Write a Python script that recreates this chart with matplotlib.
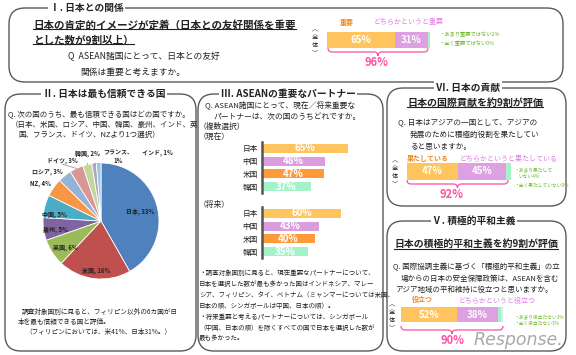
import numpy as np
import matplotlib
matplotlib.use("Agg")
import matplotlib.pyplot as plt
from matplotlib.patches import FancyBboxPatch, PathPatch
from matplotlib.path import Path

plt.rcParams['font.family'] = ['Noto Sans CJK JP', 'DejaVu Sans']

# Data
trust_countries = ["日本", "米国", "英国", "豪州", "中国", "NZ", "ロシア", "ドイツ", "韓国", "フランス", "インド"]
trust_values = [33, 16, 6, 5, 5, 4, 3, 3, 2, 1, 1]

partner_countries = ["日本", "中国", "米国", "韓国"]
partner_now = [65, 48, 47, 37]
partner_future = [60, 43, 40, 35]

friendship_values = [65, 31, 2, 0]     # 重要 / どちらかというと重要 / あまり / 全く
contribution_values = [47, 45, 4, 0]   # 果たしている / どちらかというと / あまり / 全く
peace_values = [52, 38, 3, 1]          # 役立つ / どちらかというと / あまり / 全く

W, H = 576, 355
fig = plt.figure(figsize=(W / 100, H / 100), dpi=100)
bg = fig.add_axes([0, 0, 1, 1])
bg.set_xlim(0, W)
bg.set_ylim(H, 0)
bg.axis('off')

ORANGE = '#FFC45E'
VIOLET = '#DDA0E0'
GREEN = '#A6F2C8'
PALE = '#CDEFFA'
ORANGE_TXT = '#F08A1C'
VIOLET_TXT = '#E07EE0'
GREEN_TXT = '#6DB82A'
PINK = '#FF4FA3'
TXT = '#222222'


def px_axes(x0, y0, w, h):
    # axes placed in pixel coordinates (y from top)
    return fig.add_axes([x0 / W, 1 - (y0 + h) / H, w / W, h / H])


def panel(x0, y0, x1, y1, title, tx, ha='center'):
    bg.add_patch(FancyBboxPatch((x0, y0), x1 - x0, y1 - y0,
                                boxstyle="round,pad=0,rounding_size=16",
                                fc='white', ec='#5a5a5a', lw=1.0))
    bg.text(tx, y0, title, ha=ha, va='center', fontsize=7, fontweight='bold',
            color=TXT, bbox=dict(fc='white', ec='none', pad=1.2))


def brace(x0, x1, y):
    xm = (x0 + x1) / 2
    verts = [(x0, y - 4), (x0, y), (x0 + 4, y), (xm - 4, y), (xm, y), (xm, y + 4),
             (xm, y), (xm + 4, y), (x1 - 4, y), (x1, y), (x1, y - 4)]
    codes = [Path.MOVETO, Path.CURVE3, Path.CURVE3, Path.LINETO, Path.CURVE3, Path.CURVE3,
             Path.CURVE3, Path.CURVE3, Path.LINETO, Path.CURVE3, Path.CURVE3]
    bg.add_patch(PathPatch(Path(verts, codes), fc='none', ec=PINK, lw=0.9))


def stacked(x0, y0, w100, h, values):
    ax = px_axes(x0, y0, w100, h)
    colors = [ORANGE, VIOLET, GREEN, PALE]
    left = 0
    for i, v in enumerate(values):
        ax.barh(0, v, left=left, height=1, color=colors[i], lw=0)
        if i < 2:
            ax.text(left + v / 2, 0, f"{v}%", ha='center', va='center', color='white',
                    fontsize=7, fontweight='bold')
        left += v
    ax.set_xlim(0, 100)
    ax.set_ylim(-0.5, 0.5)
    ax.axis('off')
    return ax


def zentai(x, y):
    bg.text(x, y, "︿\n全\n体\n﹀", ha='center', va='center', fontsize=4.5,
            linespacing=0.95, color=TXT)


underlined = []

# ---------- panel I ----------
panel(9, 8, 563, 82, "Ⅰ. 日本との関係", 50, ha='left')
underlined.append(bg.text(33, 25, "日本の肯定的イメージが定着（日本との友好関係を重要", fontsize=7.6,
                          fontweight='bold', va='center', color=TXT))
underlined.append(bg.text(33, 40, "とした数が9割以上）", fontsize=7.6, fontweight='bold',
                          va='center', color=TXT))
bg.text(68, 57, "Q  ASEAN諸国にとって、日本との友好", fontsize=6.3, va='center', color=TXT)
bg.text(80, 72, "関係は重要と考えますか。", fontsize=6.3, va='center', color=TXT)

stacked(327, 32, 105, 16, friendship_values)
bg.text(347, 22, "重要", fontsize=5, color=ORANGE_TXT, ha='center', va='center', fontweight='bold')
bg.text(409, 22, "どちらかというと重要", fontsize=5, color=VIOLET_TXT, ha='center', va='center')
bg.text(440, 35, f"・あまり重要ではない{friendship_values[2]}%", fontsize=3.8, color=GREEN_TXT, va='center')
bg.text(440, 44, f"・全く重要ではない{friendship_values[3]}%", fontsize=3.8, color=GREEN_TXT, va='center')
zentai(315, 41)
brace(328, 428, 52)
bg.text(376, 63, f"{friendship_values[0] + friendship_values[1]}%", fontsize=8, color=PINK,
        ha='center', va='center', fontweight='bold')

# ---------- panel II ----------
panel(5, 94, 196, 351, "Ⅱ. 日本は最も信頼できる国", 104)
bg.text(8, 115, "Q. 次の国のうち、最も信頼できる国はどの国ですか。", fontsize=5.4, va='center', color=TXT)
bg.text(11, 125, "（日本、米国、ロシア、中国、韓国、豪州、インド、英", fontsize=5.4, va='center', color=TXT)
bg.text(18, 135, "国、フランス、ドイツ、NZより1つ選択）", fontsize=5.4, va='center', color=TXT)

pie_colors = ['#4F81BD', '#C0504D', '#9BBB59', '#8064A2', '#4BACC6', '#F79646',
              '#95B3D7', '#D99694', '#C3D69B', '#B3A2C7', '#93CDDD']
pax = px_axes(43, 163, 116, 116)
wedges, _ = pax.pie(trust_values, colors=pie_colors, startangle=90, counterclock=False,
                    wedgeprops=dict(edgecolor='white', linewidth=0.6))
pax.set_xlim(-1, 1)
pax.set_ylim(-1, 1)
label_xy = [(0.67, 0.16), (-0.08, -0.86), (-0.62, -0.45), (-0.79, -0.14), (-0.80, 0.12),
            (-1.05, 0.64), (-0.93, 0.86), (-0.67, 1.05), (-0.24, 1.17), (0.30, 1.12), (0.98, 1.18)]
leader = [False, False, False, False, False, False, False, True, True, True, True]
for i, w in enumerate(wedges):
    name = trust_countries[i]
    lab = f"{name}, {trust_values[i]}%" if name != "フランス" else f"{name}、\n{trust_values[i]}%"
    lx, ly = label_xy[i]
    pax.text(lx, ly, lab, ha='center', va='center', fontsize=4.3, fontweight='bold',
             color=TXT, linespacing=1.3)
    if leader[i]:
        ang = np.deg2rad((w.theta1 + w.theta2) / 2)
        pax.plot([np.cos(ang), lx - 0.05 * np.sign(lx) if name == "インド" else lx],
                 [np.sin(ang), ly - 0.07], color='#888888', lw=0.5)

bg.text(22, 312, "調査対象国別に見ると、フィリピン以外の6カ国が日", fontsize=4.8, va='center', color=TXT)
bg.text(18, 322, "本を最も信頼できる国と評価。", fontsize=4.8, va='center', color=TXT)
bg.text(25, 332, "（フィリピンにおいては、米41%、日本31%。）", fontsize=4.8, va='center', color=TXT)

# ---------- panel III ----------
panel(198, 94, 383, 351, "Ⅲ. ASEANの重要なパートナー", 288)
bg.text(205, 105, "Q. ASEAN諸国にとって、現在／将来重要な", fontsize=5.6, va='center', color=TXT)
bg.text(213, 117, "パートナーは、次の国のうちどれですか。", fontsize=5.6, va='center', color=TXT)
bg.text(199, 127, "（複数選択）", fontsize=5.6, va='center', color=TXT)
bg.text(199, 138, "（現在）", fontsize=5.6, va='center', color=TXT)
bg.text(199, 205, "（将来）", fontsize=5.6, va='center', color=TXT)

partner_colors = ['#FFC45E', '#DA9DE0', '#FF9A3A', '#A6F2C8']
for vals, ytop in [(partner_now, 142), (partner_future, 207)]:
    ax = px_axes(262, ytop, 132, 51)
    ypos = np.arange(len(partner_countries))
    ax.barh(ypos, vals, height=0.72, color=partner_colors, lw=0)
    for y, v in zip(ypos, vals):
        ax.text(v / 2, y, f"{v}%", ha='center', va='center', color='white',
                fontsize=7, fontweight='bold')
    ax.set_xlim(0, 100)
    ax.set_ylim(len(partner_countries) - 0.5, -0.5)
    ax.set_yticks(ypos)
    ax.set_yticklabels(partner_countries, fontsize=5.5, color=TXT)
    ax.tick_params(axis='y', length=0, pad=3)
    ax.set_xticks([])
    ax.set_facecolor('none')
    for s in ['top', 'right', 'bottom']:
        ax.spines[s].set_visible(False)
    ax.spines['left'].set_color('#555555')
    ax.spines['left'].set_linewidth(1.8)

foot3 = ["・調査対象国別に見ると、現在重要なパートナーについて、",
         "日本を選択した数が最も多かった国はインドネシア、マレー",
         "シア、フィリピン、タイ、ベトナム（ミャンマーについては米国、",
         "日本の順、シンガポールは中国、日本の順）。",
         "・将来重要と考えるパートナーについては、シンガポール",
         "（中国、日本の順）を除くすべての国で日本を選択した数が",
         "最も多かった。"]
for i, line in enumerate(foot3):
    bg.text(199, 273 + i * 10.9, line, fontsize=4.7, va='center', color=TXT)

# ---------- panel VI ----------
panel(387, 88, 566, 206, "Ⅵ. 日本の貢献", 468)
underlined.append(bg.text(475, 103, "日本の国際貢献を約9割が評価", fontsize=7.2, fontweight='bold',
                          ha='center', va='center', color=TXT))
bg.text(398, 123, "Q. 日本はアジアの一国として、アジアの", fontsize=5.5, va='center', color=TXT)
bg.text(410, 135, "発展のために積極的役割を果たしてい", fontsize=5.5, va='center', color=TXT)
bg.text(410, 147, "ると思いますか。", fontsize=5.5, va='center', color=TXT)

stacked(407, 163, 108, 17, contribution_values)
bg.text(407, 159, "果たしている", fontsize=5, color=ORANGE_TXT, va='center', fontweight='bold')
bg.text(460, 159, "どちらかというと果たしている", fontsize=5, color=VIOLET_TXT, va='center')
bg.text(514, 170, "・あまり果たして", fontsize=3.4, color=GREEN_TXT, va='center')
bg.text(518, 177, f"いない{contribution_values[2]}%", fontsize=3.4, color=GREEN_TXT, va='center')
bg.text(514, 185, f"・全く果たしていない{contribution_values[3]}%", fontsize=3.4, color=GREEN_TXT, va='center')
zentai(395, 172)
brace(407, 508, 184)
bg.text(452, 195, f"{contribution_values[0] + contribution_values[1]}%", fontsize=8, color=PINK,
        ha='center', va='center', fontweight='bold')

# ---------- panel V ----------
panel(387, 221, 566, 351, "Ⅴ. 積極的平和主義", 474)
underlined.append(bg.text(476, 245, "日本の積極的平和主義を約9割が評価", fontsize=7.1, fontweight='bold',
                          ha='center', va='center', color=TXT))
bg.text(393, 267, "Q. 国際協調主義に基づく「積極的平和主義」の立", fontsize=5.4, va='center', color=TXT)
bg.text(401, 279, "場からの日本の安全保障政策は、ASEANを含む", fontsize=5.4, va='center', color=TXT)
bg.text(395, 290, "アジア地域の平和維持に役立つと思いますか。", fontsize=5.4, va='center', color=TXT)

stacked(401, 307, 108, 15, peace_values)
bg.text(412, 299, "役立つ", fontsize=5, color=ORANGE_TXT, va='center', fontweight='bold')
bg.text(459, 301, "どちらかというと役立つ", fontsize=5, color=VIOLET_TXT, va='center')
bg.text(514, 317, f"・あまり役立たない{peace_values[2]}%", fontsize=3.4, color=GREEN_TXT, va='center')
bg.text(514, 323, f"・全く役立たない{peace_values[3]}%", fontsize=3.4, color=GREEN_TXT, va='center')
zentai(392, 316)
brace(401, 503, 330)
bg.text(452, 341, f"{peace_values[0] + peace_values[1]}%", fontsize=8, color=PINK,
        ha='center', va='center', fontweight='bold')

# watermark of the source site
bg.text(518, 340, "Response.", fontsize=12.5, color='#8c8c8c', alpha=0.75, ha='center', va='center',
        family='DejaVu Sans', style='italic', zorder=20)

# underline the headings
fig.canvas.draw()
renderer = fig.canvas.get_renderer()
inv = bg.transData.inverted()
for t in underlined:
    bb = t.get_window_extent(renderer)
    (ax0, ay0), (ax1, ay1) = inv.transform([[bb.x0, bb.y0], [bb.x1, bb.y1]])
    yline = max(ay0, ay1) - 1
    bg.plot([ax0, ax1], [yline, yline], color=TXT, lw=0.8)

fig.savefig("out.png", dpi=100)
